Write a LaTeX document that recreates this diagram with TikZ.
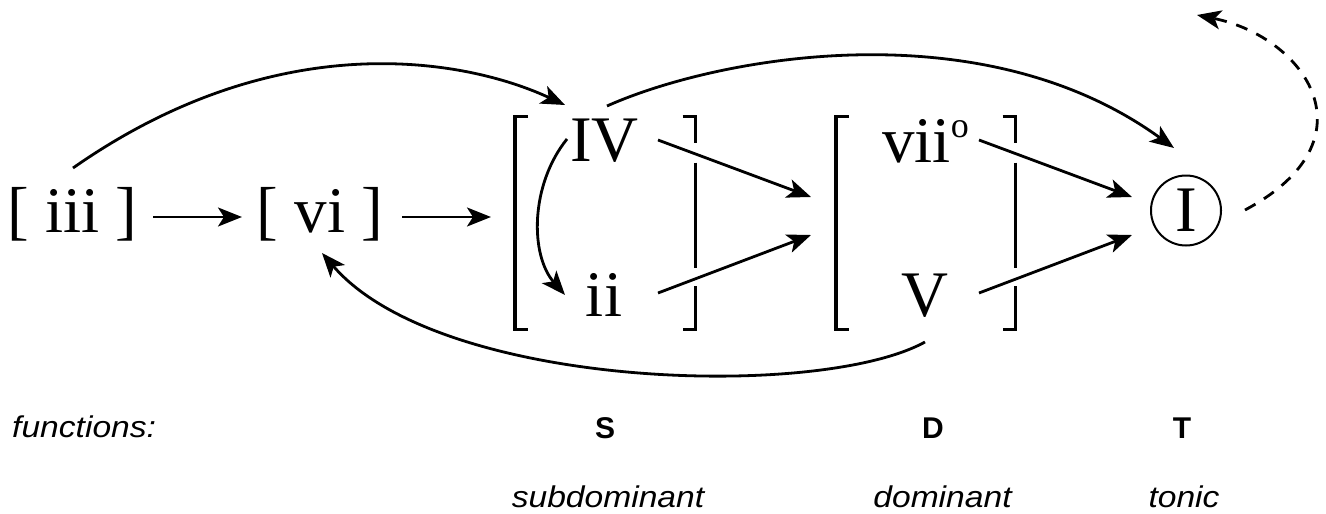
\documentclass[tikz,border=0pt]{standalone}
\usepackage{fontspec}
\setmainfont{Liberation Serif}
\newfontfamily\labelsans{Liberation Sans}
\usepackage{graphicx}
\usetikzlibrary{arrows.meta}

\begin{document}
\begin{tikzpicture}[x=1pt,y=-1pt,
  chord/.style={inner sep=0pt, anchor=base, font=\fontsize{65}{70}\selectfont},
  grp/.style={inner sep=0pt, outer sep=0pt, minimum height=213pt, rectangle},
  conn/.style={line width=2.8pt, -{Stealth[length=24pt,width=19pt,inset=6pt]}},
  brk/.style={line width=3.8pt, line cap=butt, line join=miter},
  lbl/.style={inner sep=0pt, anchor=base, font=\fontsize{30}{34}\selectfont\labelsans\itshape},
  fnl/.style={inner sep=0pt, anchor=base, font=\fontsize{30}{34}\selectfont\labelsans\bfseries},
]
\useasboundingbox (0,0) rectangle (1326,514);

% chord symbols
\node[chord] (iii) at (72.5,232) {[ iii ]};
\node[chord] (vi) at (320,232) {[ vi ]};
\node[chord] (IV) at (604.5,161) {IV};
\node[chord] (ii) at (604,316) {ii};
\node[chord, anchor=base west] (vii) at (882,162) {vii\raisebox{25pt}{\fontsize{36}{36}\selectfont o}};
\node[chord] (V) at (925,316) {V};
\node[draw, circle, line width=2pt, minimum size=70pt, inner sep=0pt,
      font=\fontsize{65}{70}\selectfont] (I) at (1186,210.5) {I};

% function groups (brackets)
\node[grp, minimum width=180.5pt] (S) at (605.25,223) {};
\node[grp, minimum width=179.5pt] (D) at (925.75,223) {};

\foreach \g in {S,D} {
  \draw[brk] ([xshift=13pt]\g.north west) -- (\g.north west) -- (\g.south west) -- ([xshift=13pt]\g.south west);
  \draw[brk] ([xshift=-13pt]\g.north east) -- (\g.north east) -- ([shift={(0,26.5)}]\g.north east);
  \draw[brk] ([shift={(0,46)}]\g.north east) -- ([shift={(0,151)}]\g.north east);
  \draw[brk] ([shift={(0,169.5)}]\g.north east) -- (\g.south east) -- ([xshift=-13pt]\g.south east);
}

% straight progressions
\draw[conn] ([shift={(80.5,-15)}]iii.base) -- ([shift={(-78,-15)}]vi.base);
\draw[conn] ([shift={(82,-15)}]vi.base) -- ([shift={(-24,-6)}]S.west);
\draw[conn] ([shift={(53.5,-21)}]IV.base) -- ([shift={(-25,-26)}]D.west);
\draw[conn] ([shift={(54,-23)}]ii.base) -- ([shift={(-25,12)}]D.west);
\draw[conn] ([shift={(97,-22)}]vii.base west) -- ([shift={(-54,-13.5)}]I.center);
\draw[conn] ([shift={(54,-23)}]V.base) -- ([shift={(-54,24.5)}]I.center);

% curved progressions
\draw[conn] ([shift={(0.5,-64)}]iii.base) .. controls (278,24.5) and (465,58.5) .. ([shift={(-39.5,-56)}]IV.base);
\draw[conn] ([shift={(2.5,-55)}]IV.base) .. controls (718.5,56.3) and (982,8.6) .. ([shift={(-12,-62.5)}]I.center);
\draw[conn] ([shift={(-37.5,-22)}]IV.base) .. controls (530,185) and (530,255) .. ([shift={(-39,-21)}]ii.base);
\draw[conn] ([shift={(0,26)}]V.base) .. controls (820,400) and (440,390) .. ([shift={(2,21)}]vi.base);
\draw[conn, dash pattern=on 12pt off 10pt] ([shift={(59,-0.5)}]I.center) .. controls (1377,139.5) and (1305,37) .. ([shift={(11,-195.5)}]I.center);

% function labels
\node[lbl, anchor=base west] (fn) at (12,437) {\scalebox{1.12}[1]{functions:}};
\node[fnl] (Sf) at (605,438) {S};
\node[fnl] (Df) at (933,438) {D};
\node[fnl] (Tf) at (1182,438) {T};
\node[lbl] (Sn) at (608,507) {\scalebox{1.12}[1]{subdominant}};
\node[lbl] (Dn) at (942.5,507) {\scalebox{1.12}[1]{dominant}};
\node[lbl] (Tn) at (1184,507) {\scalebox{1.12}[1]{tonic}};
\end{tikzpicture}
\end{document}
